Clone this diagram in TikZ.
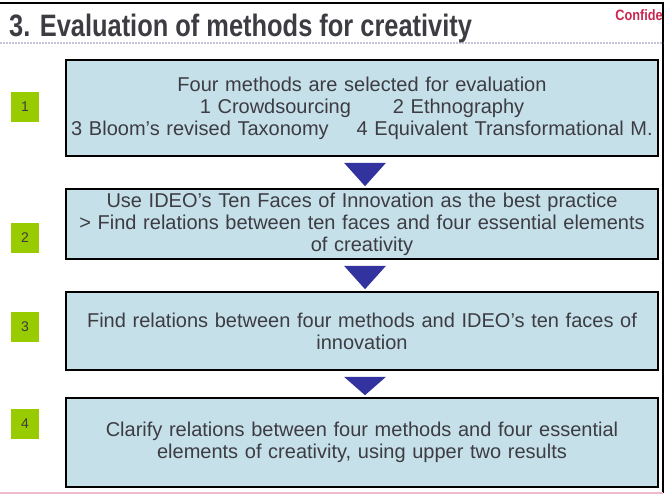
\documentclass[tikz,border=0pt]{standalone}
\usepackage{fontspec}
\setmainfont{Liberation Sans}
\usetikzlibrary{calc}
\definecolor{stepblue}{RGB}{198,224,234}
\definecolor{numgreen}{RGB}{153,204,0}
\definecolor{arrowblue}{RGB}{51,51,160}
\definecolor{inkgray}{RGB}{60,60,66}
\definecolor{confred}{RGB}{200,40,80}
\definecolor{rulegray}{RGB}{200,195,215}
\definecolor{edgepink}{RGB}{240,185,205}
\begin{document}
\begin{tikzpicture}[x=1pt, y=-1pt,
		stepbox/.style={draw=black, line width=1.6pt, fill=stepblue, minimum width=592pt, text width=590pt, align=center, inner sep=0pt, text=inkgray, font=\fontsize{20}{22}\selectfont},
		numbox/.style={fill=numgreen, minimum width=28pt, minimum height=30pt, inner sep=0pt, text=inkgray, font=\fontsize{14}{14}\selectfont},
		downtri/.style={fill=arrowblue}]
		\useasboundingbox (0,0) rectangle (669,495);
		
		% frame and title
		\draw[line width=2pt] (0,3) -- (663,3) -- (663,493);
		\draw[edgepink, line width=2pt] (0,493) -- (663,493);
		\draw[rulegray, line width=1.5pt, dash pattern=on 2pt off 1pt] (0,43) -- (663,43);
		\node[anchor=base west, inner sep=0pt, text=inkgray, font=\fontsize{31}{31}\selectfont\bfseries] (title) at (9,37) {\scalebox{0.82}[1]{3. Evaluation of methods for creativity}};
		\node[anchor=base east, inner sep=0pt, text=confred, font=\fontsize{15}{15}\selectfont\bfseries] (conf) at (663,21) {\scalebox{0.85}[1]{Confide}};
		
		% steps
		\node[stepbox, minimum height=96pt] (s1) at (362,108) {Four methods are selected for evaluation\\1 Crowdsourcing\hspace{2.1em}2 Ethnography\\3 Bloom's revised Taxonomy\hspace{1.4em}4 Equivalent Transformational M.};
		\node[stepbox, minimum height=70pt] (s2) at (362,224) {Use IDEO's Ten Faces of Innovation as the best practice\\> Find relations between ten faces and four essential elements\\of creativity};
		\node[stepbox, minimum height=78pt] (s3) at (362,331) {Find relations between four methods and IDEO's ten faces of\\innovation};
		\node[stepbox, minimum height=89pt] (s4) at (362,442.5) {Clarify relations between four methods and four essential\\elements of creativity, using upper two results};
		
		\foreach \n/\y in {1/107,2/238,3/327,4/424}
			\node[numbox] (n\n) at (25,\y) {\n};
		
		\foreach \a/\b in {s1/s2,s2/s3,s3/s4}
			\fill[downtri] ($(\a.south)+(-18,6)$) -- ($(\a.south)+(24,6)$) -- ($(\b.north)+(3,-2)$) -- cycle;
	\end{tikzpicture}
\end{document}
